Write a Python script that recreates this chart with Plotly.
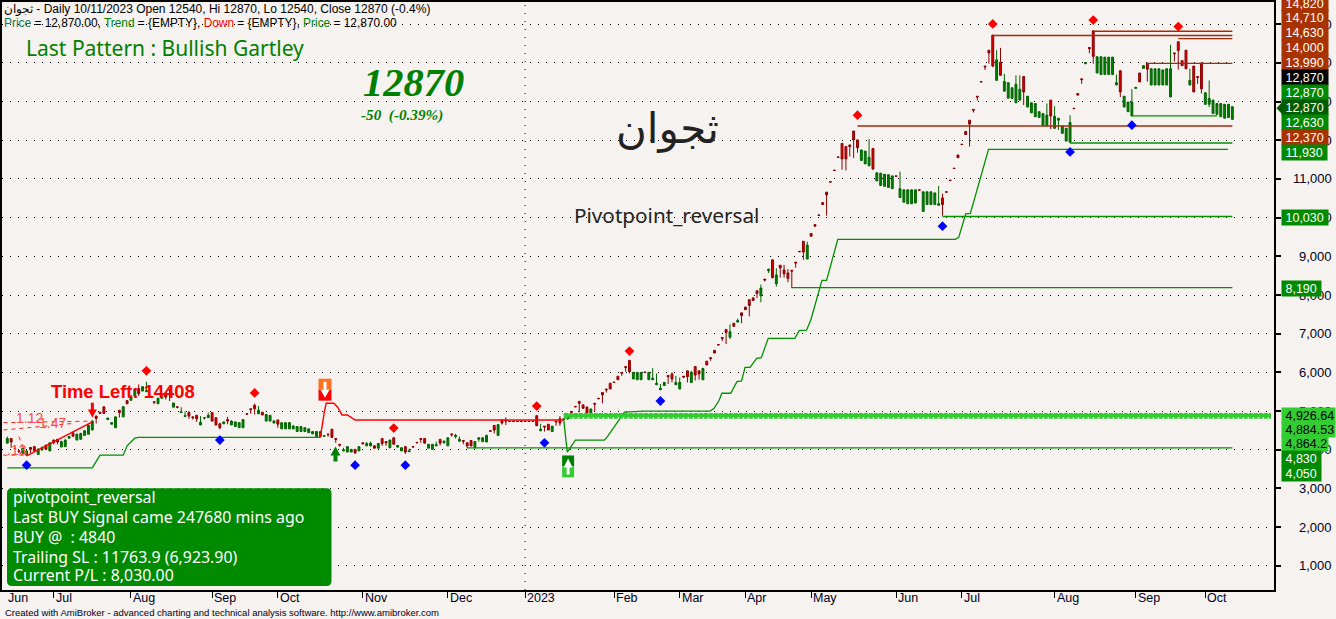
import plotly.graph_objects as go

# ---------- daily bars (one row of ten per line) ----------
opens = [
4170,4290,4040,3970,3910,3860,4060,4080,3880,4000,
4120,3970,4250,4270,4070,4080,4300,4440,4250,4270,
4370,4400,4510,4870,4970,5110,4780,4660,4570,5020,
4850,5270,5280,5390,5580,5520,5500,5390,5240,5190,
5330,5470,5560,5100,5110,4960,4860,4960,4850,4890,
4640,4820,4830,4960,4830,4670,4670,4780,4640,4600,
4570,4570,4930,5060,5150,4930,4970,4740,4740,4690,
4770,4540,4540,4540,4540,4470,4470,4470,4440,4410,
4340,4340,4350,4400,4530,4290,4140,3970,3940,3940,
4010,3970,4180,4100,4100,4100,4040,4290,4210,4050,
4310,4070,3970,4080,3950,4080,4190,4290,4290,4040,
4010,4100,4270,4180,4100,4410,4340,4220,4240,4180,
4240,4050,4270,4210,4200,4490,4630,4370,4770,4770,
4740,4740,4740,4740,4740,4740,4740,4880,4490,4610,
4660,4470,4740,4800,4800,4800,4990,5120,5250,5160,
5100,4860,5200,5330,5480,5570,5720,5750,5900,6000,
6150,6310,5830,5810,5810,6010,5810,5810,5680,5550,
5660,5920,5960,5680,5570,5900,6040,5740,6150,6040,
5810,6290,6380,6570,6720,6900,7110,6910,7270,7300,
7540,7690,7880,7920,8110,7980,8410,8630,8910,8290,
8770,8650,8570,8640,8850,9130,9390,8930,9590,9820,
10070,10390,10660,10930,11230,11570,11920,11840,11880,12240,
12010,11480,11390,11340,11790,10950,10830,10810,10780,10750,
11080,10520,10400,10360,10360,10380,10720,10160,10340,10340,
10340,10320,10510,10670,10970,11280,11620,11900,12230,12520,
12800,13140,13520,13920,14330,14720,13550,14020,13270,13090,
13080,12970,13040,13650,12860,12710,12610,12590,12380,12380,
13040,12310,12520,12180,11980,11950,12830,13210,13590,13980,
14400,14830,13740,13700,13700,13700,13700,13430,13800,12860,
12740,12630,13340,13740,13860,13990,13430,13430,13430,13430,
13430,13120,14260,14550,14060,14330,13430,13920,13650,14000,
12930,12930,12690,12670,12610,12570,12590,12540]
highs = [
4340,4300,4050,3970,4050,3990,4060,4100,4040,4080,
4130,4190,4260,4280,4230,4270,4340,4470,4420,4440,
4510,4650,4760,4880,4970,5120,4820,4700,4850,5030,
5120,5280,5400,5570,5690,5640,5760,5390,5240,5340,
5460,5480,5560,5210,5110,5100,4990,5000,4860,4900,
4870,4830,4960,4960,4830,4700,4720,4850,4760,4720,
4700,4790,4930,5060,5190,5130,4980,4920,4890,4770,
4770,4700,4700,4700,4640,4600,4600,4570,4540,4470,
4470,4470,4380,4430,4540,4290,4140,4050,4080,4010,
4010,4080,4180,4200,4210,4120,4160,4300,4210,4260,
4310,4110,4070,4080,4030,4080,4190,4290,4290,4140,
4140,4210,4270,4240,4310,4410,4410,4340,4240,4180,
4240,4210,4310,4310,4390,4490,4630,4650,4770,4840,
4740,4740,4740,4740,4740,4740,4740,4880,4670,4610,
4660,4610,4740,4870,4800,4840,4990,5120,5250,5160,
5120,5070,5200,5330,5480,5570,5720,5750,5900,6000,
6150,6310,6000,6000,6000,6010,6000,6110,5970,5700,
5740,5920,6000,5910,5870,5900,6040,6040,6150,6040,
6120,6290,6380,6570,6720,6900,7110,7240,7270,7390,
7540,7690,7880,7950,8110,8270,8410,8670,8910,8690,
8770,8780,8670,8640,8850,9130,9390,9380,9590,9820,
10070,10390,10660,10930,11230,11570,11920,11840,11880,12240,
12010,11750,11720,12030,11790,11160,11150,11120,11110,11080,
11080,11190,10720,10720,10720,10720,10720,10670,10670,10670,
10640,10820,10620,10670,10970,11280,11620,11900,12230,12520,
12800,13140,13520,13920,14330,14720,14330,14390,13720,13490,
13360,13680,13680,13650,13140,12970,12950,12740,12690,12950,
13040,12880,12570,12370,12310,12650,12830,13210,13590,14010,
14400,14830,14160,14160,14150,14150,14150,13700,13800,13140,
12990,13320,13370,13740,13930,13990,13850,13850,13850,13820,
13850,14470,14260,14550,14060,14330,13850,13920,13650,14000,
13230,13550,13040,12950,12950,12930,12930,12870]
lows = [
4170,4050,4020,3910,3900,3860,3920,3960,3880,3970,
4000,3970,4140,4140,4070,4080,4300,4340,4250,4270,
4370,4400,4510,4680,4940,4930,4780,4660,4570,4830,
4850,5180,5270,5390,5390,5510,5500,5380,5180,5190,
5330,5300,5260,5100,5070,4950,4850,4800,4780,4720,
4640,4780,4830,4740,4630,4530,4670,4660,4640,4600,
4570,4570,4920,4930,4910,4930,4890,4740,4740,4690,
4570,4540,4540,4540,4540,4470,4470,4470,4440,4410,
4340,4340,4340,4340,4310,4180,4080,3970,3940,3940,
3890,3970,4130,4100,4090,4040,4040,4100,4100,4050,
4140,4050,3970,3890,3950,4070,4180,4180,4170,4040,
4010,4100,4110,4160,4100,4340,4290,4220,4140,4040,
4090,4050,4210,4210,4200,4480,4420,4370,4650,4640,
4730,4730,4730,4730,4730,4730,4730,4620,4490,4470,
4510,4470,4620,4620,4790,4770,4880,5110,4970,5070,
4950,4860,4990,5320,5200,5480,5570,5740,5810,5910,
6020,5970,5830,5810,5810,6000,5810,5810,5680,5550,
5660,5700,5740,5680,5570,5850,5740,5740,5790,5810,
5810,6190,6300,6500,6710,6810,6730,6860,7190,7300,
7270,7620,7450,7860,7920,7810,8350,8570,8430,8220,
8450,8450,8330,8180,8710,9120,8910,8930,9520,9780,
10060,10340,10050,10920,11220,11560,11240,11220,11580,11540,
11680,11480,11390,11340,11240,10950,10830,10810,10780,10750,
11070,10520,10400,10360,10360,10380,10710,10160,10340,10340,
10340,10320,10050,10660,10960,11270,11550,11890,12150,11840,
12720,13030,13510,13820,13980,13890,13550,13680,13270,13090,
13080,12970,13040,12910,12860,12710,12610,12590,12380,12380,
12290,12310,12270,12180,11980,11950,12820,13160,13460,13980,
14250,13980,13740,13700,13700,13700,13700,13430,13120,12860,
12740,12630,13340,13510,13860,13520,13430,13430,13430,13430,
13430,13120,14040,13830,13930,13850,13430,13250,13460,13210,
12930,12860,12690,12670,12610,12570,12590,12540]
closes = [
4290,4200,4030,3960,4040,3970,4010,3970,4010,4060,
4010,4180,4180,4200,4210,4250,4340,4350,4400,4420,
4490,4630,4740,4810,4940,4940,4820,4700,4850,4960,
5110,5190,5390,5560,5450,5630,5530,5380,5230,5330,
5450,5360,5540,5210,5100,4980,4880,4870,4830,4800,
4710,4830,4890,4740,4640,4570,4720,4740,4740,4720,
4700,4780,4920,5040,5060,5020,4900,4910,4890,4740,
4660,4700,4700,4700,4610,4600,4600,4570,4540,4470,
4470,4470,4360,4390,4320,4270,4120,4000,4080,4010,
3920,4080,4160,4160,4170,4040,4160,4160,4180,4250,
4140,4110,4050,3940,3970,4070,4180,4270,4170,4140,
4140,4130,4170,4220,4310,4390,4370,4270,4220,4100,
4100,4210,4310,4310,4370,4480,4510,4650,4690,4740,
4730,4730,4730,4730,4730,4730,4730,4620,4530,4590,
4510,4610,4720,4690,4790,4840,4970,5110,5200,5070,
4950,5050,5180,5320,5420,5550,5570,5740,5810,5980,
6130,6020,6000,6000,6000,6000,6000,5850,5720,5590,
5740,5890,5830,5740,5740,5880,5890,6000,5930,5960,
6100,6190,6360,6500,6710,6880,7030,7050,7190,7340,
7470,7620,7730,7860,8040,8180,8390,8670,8450,8520,
8700,8550,8430,8620,8830,9120,9110,9290,9520,9780,
10060,10340,10590,10920,11220,11560,11520,11520,11840,12010,
11810,11750,11720,11560,11260,11160,11150,11120,11110,11080,
11070,10750,10720,10720,10720,10720,10710,10670,10670,10670,
10640,10360,10340,10660,10960,11270,11550,11890,12150,12420,
12780,13120,13510,13900,14260,13920,14080,13680,13520,13490,
13360,13450,13320,13250,13140,12970,12950,12740,12690,12650,
12630,12620,12570,12370,12310,12460,12820,13170,13570,14010,
14370,14170,14160,14160,14150,14150,14150,13490,13250,13140,
12990,12990,13370,13510,13930,13840,13850,13850,13850,13820,
13850,13850,14240,14320,13930,13850,13550,13250,13630,13330,
13230,13080,13040,12950,12950,12930,12930,12870]
assert len(opens) == len(highs) == len(lows) == len(closes) == 318
bars = list(range(len(opens)))

# ---------- month axis ----------
month_labels = ["Jul","Aug","Sep","Oct","Nov","Dec","2023","Feb","Mar","Apr","May","Jun","Jul","Aug","Sep","Oct"]
month_bars = [12,32,53,70,92,114,134,157,174,191,208,230,247,271,292,310]
price_ticks = [1000,2000,3000,4000,5000,6000,7000,8000,9000,10000,11000,12000,13000,14000,15000]

# ---------- trailing stop ----------
trail_up1_x = [0,22,23,24,30,31,32,33,34,81]
trail_up1_y = [3530,3530,3700,3860,3860,4100,4200,4300,4320,4320]
trail_dn_x = [81,81.5,82,82.5,84.5,85.5,86.6,88,90,144]
trail_dn_y = [4320,4690,4950,5200,5200,5100,4900,4900,4767,4767]
trail_up2_x = [144,144.1,144.6,144.9,147,154.5,155.3,159.7,164.7,181.9,182.9,184.2,184.9,187.2,188.8,190,190.9,192.2,193.9,195.1,196.9,203.8,204.9,206.8,207.9,209.4,210.8,212,214.9,245.3,246.2,248,249.2,253.9,315.9]
trail_up2_y = [4767,4690,4250,3940,4250,4250,4340,4970,5000,5000,5070,5280,5460,5460,5760,5780,6130,6130,6360,6380,6880,6880,7080,7090,7350,7870,8380,8380,9440,9440,9490,10100,10110,11763.9,11763.9]

# ---------- support / resistance ----------
support_levels = [4050,8190,10030,11930,12630]
support_start = [119,203,242,275,291]
support_end = [317,317,317,317,313]
resist_levels = [12370,13990,14630,14710,14820]
resist_start = [220,295,303,255,281]
resist_end = [317,317,317,317,317]

# ---------- band ----------
band_levels = [4926.64,4884.53,4864.2]
band_x = [144,327]

# ---------- pivots ----------
high_pivot_x = [36,64,100,137,161,220,255,281,303]
high_pivot_y = [6040,5470,4560,5130,6550,12650,15010,15110,14940]
low_pivot_x = [5,55,90,103,139,169,242,275,291]
low_pivot_y = [3600,4250,3600,3600,4180,5260,9780,11700,12390]

# ---------- harmonic pattern ----------
pattern_x = [5,22]
pattern_y = [3840,4720]
fib1_x = [-1,22]
fib1_y = [4700,4740]
fib2_x = [-1,17]
fib2_y = [4510,4680]
fib3_x = [-1,5]
fib3_y = [3860,3860]
fib4_x = [3,5]
fib4_y = [4340,3840]

# ---------- right-hand price tags ----------
tag_text = ["14,820","14,710","14,630","14,000","13,990","12,870","12,870","12,870","12,630","12,370","11,930","10,030","8,190","4,926.64","4,884.53","4,864.2","4,830","4,050"]
tag_kind = ["r","r","r","r","r","k","g","d","g","r","g","g","g","l","l","l","g","g"]
tag_row = [1.5,16,31,46,61,76,91,106,121,136,151,216,287.5,414.5,429,443.5,458.5,473.5]
tag_width = [46,46,46,46,46,46,46,46,46,46,45,46,39,53,53,46,39,39]

panel_lines = ["pivotpoint_reversal","Last BUY Signal came 247680 mins ago","BUY @  : 4840","Trailing SL : 11763.9 (6,923.90)","Current P/L : 8,030.00"]
panel_rows = [497,517,537,557,575]

W, H = 1336, 619
PW, PH = 1274, 590
SP = (1232.3 - 5.3) / 317
BG = "#f6f2ef"
DOTS = "1px,7px"
GREEN = "#008a00"
DGREEN = "#008000"
BROWN = "#a83200"
LIME = "#33cc33"
Y0, YS = 604.5, 0.03881

def fx(px): return px / PW
def fy(py): return 1 - py / PH

fig = go.Figure()
line_green = dict(color="#009000", width=1.3)
line_brown = dict(color="#a52a0a", width=1.3)

for lv, a, b in zip(support_levels, support_start, support_end):
    fig.add_trace(go.Scatter(x=[a, b], y=[lv, lv], mode="lines", line=line_green))
for lv, a, b in zip(resist_levels, resist_start, resist_end):
    fig.add_trace(go.Scatter(x=[a, b], y=[lv, lv], mode="lines", line=line_brown))

fig.add_trace(go.Scatter(x=trail_up1_x, y=trail_up1_y, mode="lines", line=line_green))
fig.add_trace(go.Scatter(x=trail_dn_x, y=trail_dn_y, mode="lines", line=dict(color="#ff0000", width=1.4)))
fig.add_trace(go.Scatter(x=trail_up2_x, y=trail_up2_y, mode="lines", line=line_green))

for lv, dash, wd in zip(band_levels, ["4px,1px", "solid", "4px,1px"], [2, 3, 5]):
    fig.add_trace(go.Scatter(x=band_x, y=[lv, lv], mode="lines", line=dict(color=LIME, width=wd, dash=dash)))

fig.add_trace(go.Scatter(x=pattern_x, y=pattern_y, mode="lines", line=dict(color="#ff0000", width=1.5)))
for xs, ys in [(fib1_x, fib1_y), (fib2_x, fib2_y), (fib3_x, fib3_y), (fib4_x, fib4_y)]:
    fig.add_trace(go.Scatter(x=xs, y=ys, mode="lines", line=dict(color="#ff2020", width=1, dash="4px,4px")))

fig.add_trace(go.Candlestick(
    x=bars, open=opens, high=highs, low=lows, close=closes,
    increasing=dict(line=dict(color="#006400", width=1), fillcolor="#008000"),
    decreasing=dict(line=dict(color="#8b0000", width=1), fillcolor="#e00000"),
))

fig.add_trace(go.Scatter(x=high_pivot_x, y=high_pivot_y, mode="markers",
                         marker=dict(symbol="diamond", size=7.5, color="#ff0000")))
fig.add_trace(go.Scatter(x=low_pivot_x, y=low_pivot_y, mode="markers",
                         marker=dict(symbol="diamond", size=7.5, color="#0000ff")))

ann = []
def text(px, py, s, size, color, font="Liberation Sans", anchor="left", **kw):
    off = 3 if anchor == "left" else 0
    ann.append(dict(x=fx(px - off), y=fy(py), xref="paper", yref="paper", text=s, showarrow=False,
                    xanchor=anchor, yanchor="middle", font=dict(family=font, size=size, color=color),
                    borderpad=0, **kw))

# price axis labels
for v in price_ticks:
    ann.append(dict(x=fx(1333), xref="paper", y=v, yref="y", text=f"{v:,}", showarrow=False, xanchor="right",
                    yanchor="middle", font=dict(family="Liberation Sans", size=13, color="#000020"), borderpad=0))

# month labels
text(8, 598, "Jun", 12.5, "#000020")
for lab, b in zip(month_labels, month_bars):
    ann.append(dict(x=b, xref="x", y=fy(598), yref="paper", text=lab, showarrow=False, xanchor="left", xshift=1,
                    yanchor="middle", font=dict(family="Liberation Sans", size=12.5, color="#000020"), borderpad=0))

# tags
styles = {"r": (BROWN, "#ffffff"), "k": ("#000000", "#ffffff"), "g": (GREEN, "#ffffff"),
          "d": ("#005c00", "#ffffff"), "l": (LIME, "#000000")}
for t, k, r, w in zip(tag_text, tag_kind, tag_row, tag_width):
    bg, fg = styles[k]
    ann.append(dict(x=fx(1281.5), y=fy(r), xref="paper", yref="paper", text="\u00a0" + t, showarrow=False,
                    xanchor="left", yanchor="middle", align="left", width=w, height=15, bgcolor=bg, borderpad=0,
                    font=dict(family="Liberation Sans", size=12.5, color=fg)))

# header
text(4, 7, "ثجوان - Daily 10/11/2023 Open 12540, Hi 12870, Lo 12540, Close 12870 (-0.4%)", 12, "#000000")
text(4, 21, '<span style="color:#00805a">Price</span> = 12,870.00, <span style="color:#008000">Trend</span> = {EMPTY}, '
            '<span style="color:#ff0000">Down</span> = {EMPTY}, <span style="color:#008000">Price</span> = 12,870.00',
     11.9, "#000000")
text(26, 46, "Last Pattern : Bullish Gartley", 21, DGREEN, font="Noto Sans")
text(364, 81, "<b><i>12870</i></b>", 40.5, DGREEN, font="Liberation Serif")
text(362, 113, "<b><i>-50  (-0.39%)</i></b>", 15.2, DGREEN, font="Liberation Serif")
text(667, 127, "ثجوان", 42, "#222222", font="DejaVu Sans", anchor="center")
text(575, 214, "Pivotpoint_reversal", 20.7, "#222222", font="Noto Sans")
text(51, 391, "<b>Time Left: 14408</b>", 18.4, "#ff0000")
text(16, 417, "1.12", 14, "#ff4a4a")
text(39, 422, "1.47", 14, "#ff4a4a")
text(7, 450, ".13", 14, "#ff4a4a")

# panel
for s, r in zip(panel_lines, panel_rows):
    text(13, r, s, 15.9, "#ffffff", font="Noto Sans")
text(5, 613, "Created with AmiBroker - advanced charting and technical analysis software. http://www.amibroker.com", 9.5, "#000020")

shapes = []
def rect(x0, y0, x1, y1, color):
    shapes.append(dict(type="rect", xref="paper", yref="paper", x0=fx(x0), x1=fx(x1), y0=fy(y0), y1=fy(y1),
                       fillcolor=color, line=dict(width=0), layer="above"))
def arrow(px, tail, tip, shaft, head_w, head_h, color):
    d = 1 if tip > tail else -1
    base = tip - d * head_h
    pts = [(px - shaft / 2, tail), (px - shaft / 2, base), (px - head_w / 2, base), (px, tip),
           (px + head_w / 2, base), (px + shaft / 2, base), (px + shaft / 2, tail)]
    path = "M " + " L ".join(f"{fx(a)} {fy(b)}" for a, b in pts) + " Z"
    shapes.append(dict(type="path", xref="paper", yref="paper", fillcolor=color, line=dict(width=0), layer="above", path=path))

rect(317, 378, 330, 389, "#ff7020")
rect(317, 389, 330, 400, "#ff0000")
rect(561, 455, 573, 466, "#008000")
rect(561, 466, 573, 477, LIME)
arrow(90.5, 402, 417, 3, 9, 8, "#ff0000")
arrow(334, 461, 446, 4, 10, 9, "#008000")
arrow(323.5, 381, 397, 3, 9, 8, "#ffffff")
arrow(567, 474, 458, 3, 9, 9, "#ffffff")

# panel background
x0, x1, y0, y1, r = fx(5), fx(330), fy(488), fy(586), 5
rx, ry = r / PW, r / PH
shapes.append(dict(type="path", xref="paper", yref="paper", fillcolor=GREEN, line=dict(width=0), layer="above",
    path=f"M {x0+rx} {y0} L {x1-rx} {y0} Q {x1} {y0} {x1} {y0-ry} L {x1} {y1+ry} Q {x1} {y1} {x1-rx} {y1} "
         f"L {x0+rx} {y1} Q {x0} {y1} {x0} {y1+ry} L {x0} {y0-ry} Q {x0} {y0} {x0+rx} {y0} Z"))
# current-price pointer
shapes.append(dict(type="path", xref="paper", yref="paper", fillcolor="#005c00", line=dict(width=0), layer="above",
    path=f"M {fx(1276.5)} {fy(106.5)} L {fx(1283)} {fy(99.5)} L {fx(1283)} {fy(113.5)} Z"))
# 2023 divider
shapes.append(dict(type="line", xref="x", yref="paper", x0=month_bars[6], x1=month_bars[6], y0=0, y1=1,
                   line=dict(color="#000000", width=1, dash=DOTS), layer="below"))

fig.update_layout(
    width=W, height=H, margin=dict(l=0, r=W - PW, t=0, b=H - PH, pad=0),
    paper_bgcolor=BG, plot_bgcolor=BG, showlegend=False, hovermode=False,
    boxgap=0.3, annotations=ann, shapes=shapes,
    xaxis=dict(range=[-5.3 / SP, (PW - 5.3) / SP], rangeslider=dict(visible=False), showgrid=False, zeroline=False,
               tickmode="array", tickvals=month_bars, ticks="outside", ticklen=6, tickwidth=1, tickcolor="#000000",
               showticklabels=False, showline=True, linecolor="#000000", linewidth=2, mirror=True),
    yaxis=dict(range=[(Y0 - PH) / YS, Y0 / YS], side="right", zeroline=False,
               tickmode="array", tickvals=price_ticks, ticks="outside", ticklen=5, tickwidth=2, tickcolor="#000000",
               showticklabels=False, showgrid=True, gridcolor="#000000", gridwidth=1, griddash=DOTS,
               showline=True, linecolor="#000000", linewidth=2, mirror=True),
)

fig.write_html("out.html", config={"displayModeBar": False},
               post_script="document.body.style.margin='0';document.documentElement.style.overflow='hidden';")
